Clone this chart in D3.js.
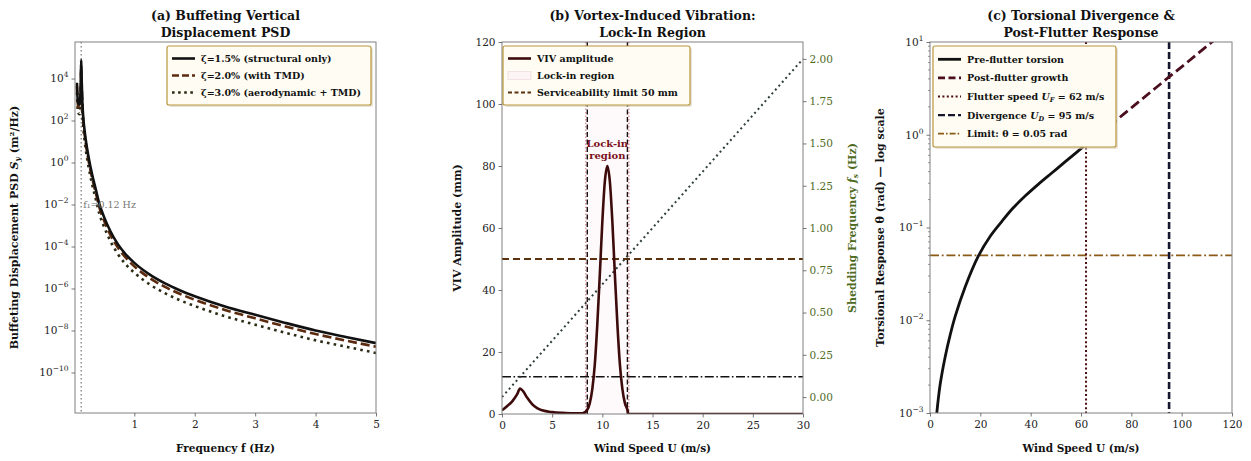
<!DOCTYPE html>
<html><head><meta charset="utf-8">
<script src="https://cdn.jsdelivr.net/npm/d3@7"></script>
<style>body{margin:0;background:#fff}svg{display:block}text{font-family:"DejaVu Serif",serif}</style>
</head><body><svg id="c" width="1251" height="461"></svg>
<script>
// ---------- DATA ----------
// (a) buffeting PSD
const freq = [0.05,0.06,0.07,0.09,0.1,0.11,0.115,0.12,0.125,0.13,0.14,0.156,0.18,0.2,0.24,0.3,0.36,0.42,0.5,0.6,0.73,0.85,1.0,1.25,1.5,1.75,2.0,2.5,3.0,3.5,4.0,4.5,5.0];
const psdZeta15 = [6.3e3,1.26e3,7.1e2,5.6e2,7.9e2,2.5e3,7.9e3,7.6e4,2.5e4,6.3e3,7.9e2,1.26e2,28,10,2.0,0.28,5.6e-2,1.1e-2,2.5e-3,5.6e-4,1.26e-4,4.5e-5,1.66e-5,4.7e-6,1.8e-6,8.3e-7,4.3e-7,1.4e-7,5.6e-8,2.3e-8,1.0e-8,4.9e-9,2.5e-9];
const psdZeta20 = [4.4e3,8.8e2,5.0e2,3.9e2,5.5e2,1.6e3,4.8e3,4.3e4,1.5e4,4.0e3,5.4e2,8.6e1,19,6.8,1.36,0.19,3.8e-2,7.5e-3,1.7e-3,3.8e-4,8.6e-5,3.1e-5,1.13e-5,3.2e-6,1.22e-6,5.6e-7,2.9e-7,9.5e-8,3.8e-8,1.56e-8,6.8e-9,3.3e-9,1.7e-9];
const psdZeta30 = [2.2e3,4.4e2,2.5e2,2.0e2,2.8e2,8.0e2,2.2e3,1.9e4,7.0e3,2.0e3,2.7e2,4.3e1,9.5,3.4,0.68,9.5e-2,1.9e-2,3.7e-3,8.5e-4,1.9e-4,4.3e-5,1.5e-5,5.6e-6,1.6e-6,6.1e-7,2.8e-7,1.46e-7,4.8e-8,1.9e-8,7.8e-9,3.4e-9,1.7e-9,8.5e-10];
const naturalFreq = 0.12;
const psdLegend = ["ζ=1.5% (structural only)","ζ=2.0% (with TMD)","ζ=3.0% (aerodynamic + TMD)"];
const freqTicks = [1,2,3,4,5];
const psdTicks = [1e-10,1e-8,1e-6,1e-4,1e-2,1e0,1e2,1e4];

// (b) VIV
const windViv = [0,0.5,1.0,1.5,1.8,2.1,2.5,3.0,3.5,4.0,5.0,6.0,7.0,8.0,8.5,8.75,9.0,9.25,9.5,9.75,10.0,10.25,10.5,10.75,11.0,11.25,11.5,11.75,12.0,12.25,12.5,12.6,15,20,25,30];
const vivAmp = [1.2,2.5,4.0,6.3,8.2,7.4,5.3,3.2,1.9,1.2,0.6,0.35,0.25,0.2,1.4,3.5,8,16,29,45,62,75,80,75,62,45,29,16,8,3.5,1.4,0,0,0,0,0];
const windShed = [0,30];
const shedFreq = [0,2.0];
const lockIn = [8.5,12.5];
const serviceLimit = 50;
const vivTicksX = [0,5,10,15,20,25,30];
const vivTicksY = [0,20,40,60,80,100,120];
const shedTicks = [0,0.25,0.5,0.75,1.0,1.25,1.5,1.75,2.0];

// (c) torsion
const windPre = [2.7,4,6,8,10,14,19,24,28.5,33,38,43,48.5,54,58,62];
const thetaPre = [0.001,0.0020,0.0040,0.0069,0.011,0.023,0.048,0.081,0.116,0.162,0.221,0.292,0.389,0.519,0.638,0.785];
const windPost = [62,70,80,90,95,100,110,120];
const thetaPost = [0.785,1.17,1.95,3.25,4.2,5.4,9.0,15.0];
const flutterSpeed = 62, divergenceSpeed = 95, thetaLimit = 0.05;
const torTicksX = [0,20,40,60,80,100,120];
const torTicksY = [1e-3,1e-2,1e-1,1e0,1e1];

// ---------- HELPERS ----------
const svg = d3.select("#c");
const SPINE = "#808080";
const TICKFS = "10.5px";
const LFS = "10.5px";
const YLFS = "11px";

function styleAxis(g, color){
  g.select(".domain").remove();
  g.selectAll(".tick line").attr("stroke", "#555").attr("stroke-width",0.8);
  g.selectAll(".tick text").attr("font-size", TICKFS).attr("fill", color||"#222");
}
function pow10Labels(g){
  g.selectAll(".tick text").each(function(d){
    const t=d3.select(this); const e=Math.round(Math.log10(d));
    t.text(null);
    t.append("tspan").text("10");
    t.append("tspan").attr("dy",-5).attr("font-size","7.5px").text(e<0?"−"+(-e):String(e));
  });
}
function frame(L,R,T,B){
  svg.append("rect").attr("x",L).attr("y",T).attr("width",R-L).attr("height",B-T)
    .attr("fill","none").attr("stroke",SPINE).attr("stroke-width",1);
}
function title(cx, l1, l2){
  const t = svg.append("text").attr("text-anchor","middle").attr("font-size","12.5px").attr("font-weight","bold").attr("fill","#111");
  t.append("tspan").attr("x",cx).attr("y",19.5).text(l1);
  t.append("tspan").attr("x",cx).attr("y",36.5).text(l2);
}
function xlabel(cx, s){
  svg.append("text").attr("x",cx).attr("y",452).attr("text-anchor","middle").attr("font-size",LFS).attr("font-weight","bold").attr("fill","#111").text(s);
}
function legend(x,y,w,rowH,items){
  const g = svg.append("g");
  const h = rowH*items.length+8;
  g.append("rect").attr("x",x+2).attr("y",y+2).attr("width",w).attr("height",h).attr("rx",2).attr("fill","#d8d2c0").attr("opacity",0.6);
  g.append("rect").attr("x",x).attr("y",y).attr("width",w).attr("height",h).attr("rx",2).attr("fill","#fffdf3").attr("stroke","#b8963c").attr("stroke-width",1.2);
  items.forEach((it,i)=>{
    const cy = y+4+rowH*(i+0.5);
    if(it.patch){
      g.append("rect").attr("x",x+5).attr("y",cy-4).attr("width",23).attr("height",8).attr("fill",it.fill).attr("stroke",it.stroke).attr("stroke-width",0.6);
    } else {
      g.append("line").attr("x1",x+5).attr("x2",x+28).attr("y1",cy).attr("y2",cy)
        .attr("stroke",it.color).attr("stroke-width",it.w||2.2).attr("stroke-dasharray",it.dash||null);
    }
    const t = g.append("text").attr("x",x+34).attr("y",cy+3.4).attr("font-size","9.5px").attr("font-weight","bold").attr("fill","#111");
    it.text(t);
  });
}
const plain = s => t => t.text(s);

// ---------- PANEL A ----------
(function(){
  const L=75,R=376,T=42,B=413;
  const x = d3.scaleLinear().domain([0.018,5]).range([L,R]);
  const y = d3.scaleLog().domain([Math.pow(10,-11.93),Math.pow(10,5.74)]).range([B,T]);
  svg.append("clipPath").attr("id","ca").append("rect").attr("x",L).attr("y",T).attr("width",R-L).attr("height",B-T);
  const pg = svg.append("g").attr("clip-path","url(#ca)");
  pg.append("line").attr("x1",x(naturalFreq)).attr("x2",x(naturalFreq)).attr("y1",T).attr("y2",B)
    .attr("stroke","#777").attr("stroke-width",1.2).attr("stroke-dasharray","1.5,2.5");
  const series = [
    {v:psdZeta30,c:"#2b2a14",dash:"2.6,4.2",w:2.6},
    {v:psdZeta20,c:"#5c2a0e",dash:"9,4",w:2.6},
    {v:psdZeta15,c:"#111",dash:null,w:2.6}
  ];
  series.forEach(s=>{
    const line = d3.line().x((d,i)=>x(freq[i])).y(d=>y(d)).curve(d3.curveMonotoneX);
    pg.append("path").datum(s.v).attr("d",line).attr("fill","none").attr("stroke",s.c)
      .attr("stroke-width",s.w).attr("stroke-dasharray",s.dash);
  });
  svg.append("text").attr("x",x(naturalFreq)+2).attr("y",y(1e-2)+3.5).attr("font-size","9.5px").attr("fill","#777")
    .text("f₁=0.12 Hz");
  frame(L,R,T,B);
  const gx = svg.append("g").attr("transform",`translate(0,${B})`).call(d3.axisBottom(x).tickValues(freqTicks).tickFormat(d3.format("d")).tickSize(3.5).tickPadding(4));
  styleAxis(gx);
  const gy = svg.append("g").attr("transform",`translate(${L},0)`).call(d3.axisLeft(y).tickValues(psdTicks).tickSize(3.5).tickPadding(3));
  styleAxis(gy); pow10Labels(gy);
  title((L+R)/2,"(a) Buffeting Vertical","Displacement PSD");
  xlabel((L+R)/2,"Frequency f (Hz)");
  const yl = svg.append("text").attr("transform",`translate(18,${(T+B)/2}) rotate(-90)`).attr("text-anchor","middle")
    .attr("font-size",YLFS).attr("font-weight","bold").attr("fill","#111");
  yl.append("tspan").text("Buffeting Displacement PSD ");
  yl.append("tspan").attr("font-style","italic").text("S");
  yl.append("tspan").attr("font-style","italic").attr("font-size","7.5px").attr("dy",2).text("y");
  yl.append("tspan").attr("dy",-2).text(" (m²/Hz)");
  legend(167,46,204,17,[
    {color:"#111",text:plain(psdLegend[0]),w:2.6},
    {color:"#5c2a0e",dash:"7,3",text:plain(psdLegend[1]),w:2.6},
    {color:"#2b2a14",dash:"2.6,3.5",text:plain(psdLegend[2]),w:2.6}
  ]);
})();

// ---------- PANEL B ----------
(function(){
  const L=502,R=803,T=42,B=414;
  const x = d3.scaleLinear().domain([0,30]).range([L,R]);
  const y = d3.scaleLinear().domain([0,120]).range([B,T]);
  const y2 = d3.scaleLinear().domain([-0.1,2.1]).range([B,T]);
  svg.append("clipPath").attr("id","cb").append("rect").attr("x",L).attr("y",T).attr("width",R-L).attr("height",B-T);
  const pg = svg.append("g").attr("clip-path","url(#cb)");
  pg.append("rect").attr("x",x(lockIn[0])).attr("y",T).attr("width",x(lockIn[1])-x(lockIn[0])).attr("height",B-T)
    .attr("fill","#dc143c").attr("opacity",0.018);
  lockIn.forEach((u,i)=>{
    pg.append("line").attr("x1",x(u)+(i?1.5:-1.5)).attr("x2",x(u)+(i?1.5:-1.5)).attr("y1",T).attr("y2",B)
      .attr("stroke","#c0304a").attr("stroke-width",1).attr("stroke-dasharray","1.5,2").attr("opacity",0.7);
    pg.append("line").attr("x1",x(u)).attr("x2",x(u)).attr("y1",T).attr("y2",B)
      .attr("stroke","#1a1010").attr("stroke-width",1.4).attr("stroke-dasharray","5,2.5");
  });
  pg.append("line").attr("x1",L).attr("x2",R).attr("y1",y(serviceLimit)).attr("y2",y(serviceLimit))
    .attr("stroke","#5a3210").attr("stroke-width",1.8).attr("stroke-dasharray","7,4");
  pg.append("line").attr("x1",L).attr("x2",R).attr("y1",y2(naturalFreq)).attr("y2",y2(naturalFreq))
    .attr("stroke","#111").attr("stroke-width",1.6).attr("stroke-dasharray","9,2.5,1.6,2.5");
  const shed = d3.line().x((d,i)=>x(windShed[i])).y(d=>y2(d));
  pg.append("path").datum(shedFreq).attr("d",shed).attr("fill","none").attr("stroke","#2f3f3a")
    .attr("stroke-width",2).attr("stroke-dasharray","2,3.2");
  const amp = d3.line().x((d,i)=>x(windViv[i])).y(d=>y(d)).curve(d3.curveMonotoneX);
  pg.append("path").datum(vivAmp).attr("d",amp).attr("fill","none").attr("stroke","#3d0b0b").attr("stroke-width",2.6);
  const lt = svg.append("text").attr("text-anchor","middle").attr("font-size","10px").attr("font-weight","bold").attr("fill","#7a1020");
  lt.append("tspan").attr("x",x(10.5)).attr("y",147).text("Lock-in");
  lt.append("tspan").attr("x",x(10.5)).attr("y",159).text("region");
  frame(L,R,T,B);
  const gx = svg.append("g").attr("transform",`translate(0,${B})`).call(d3.axisBottom(x).tickValues(vivTicksX).tickSize(3.5).tickPadding(4));
  styleAxis(gx);
  const gy = svg.append("g").attr("transform",`translate(${L},0)`).call(d3.axisLeft(y).tickValues(vivTicksY).tickSize(3.5).tickPadding(3));
  styleAxis(gy);
  const gr = svg.append("g").attr("transform",`translate(${R},0)`).call(d3.axisRight(y2).tickValues(shedTicks).tickFormat(d3.format(".2f")).tickSize(3.5).tickPadding(3));
  styleAxis(gr,"#4f6b1f");
  title((L+R)/2,"(b) Vortex-Induced Vibration:","Lock-In Region");
  xlabel((L+R)/2,"Wind Speed U (m/s)");
  svg.append("text").attr("transform",`translate(461,${(T+B)/2}) rotate(-90)`).attr("text-anchor","middle")
    .attr("font-size",YLFS).attr("font-weight","bold").attr("fill","#111").text("VIV Amplitude (mm)");
  const yr = svg.append("text").attr("transform",`translate(856,${(T+B)/2}) rotate(-90)`).attr("text-anchor","middle")
    .attr("font-size",YLFS).attr("font-weight","bold").attr("fill","#4f6b1f");
  yr.append("tspan").text("Shedding Frequency ");
  yr.append("tspan").attr("font-style","italic").text("f");
  yr.append("tspan").attr("font-style","italic").attr("font-size","7.5px").attr("dy",2).text("s");
  yr.append("tspan").attr("dy",-2).text(" (Hz)");
  legend(503,46,187,17,[
    {color:"#3d0b0b",text:plain("VIV amplitude"),w:2.6},
    {patch:true,fill:"#fdf4f5",stroke:"#ecd4d7",text:plain("Lock-in region")},
    {color:"#5a3210",dash:"4,2.5",text:plain("Serviceability limit 50 mm"),w:1.8}
  ]);
})();

// ---------- PANEL C ----------
(function(){
  const L=930,R=1232,T=42,B=413;
  const x = d3.scaleLinear().domain([0,120]).range([L,R]);
  const y = d3.scaleLog().domain([1e-3,1e1]).range([B,T]);
  svg.append("clipPath").attr("id","cc").append("rect").attr("x",L).attr("y",T).attr("width",R-L).attr("height",B-T);
  const pg = svg.append("g").attr("clip-path","url(#cc)");
  pg.append("line").attr("x1",L).attr("x2",R).attr("y1",y(thetaLimit)).attr("y2",y(thetaLimit))
    .attr("stroke","#8a5a16").attr("stroke-width",1.8).attr("stroke-dasharray","9,2.8,1.8,2.8");
  pg.append("line").attr("x1",x(flutterSpeed)).attr("x2",x(flutterSpeed)).attr("y1",T).attr("y2",B)
    .attr("stroke","#4a0c0c").attr("stroke-width",2).attr("stroke-dasharray","2,2.4");
  pg.append("line").attr("x1",x(divergenceSpeed)).attr("x2",x(divergenceSpeed)).attr("y1",T).attr("y2",B)
    .attr("stroke","#16162e").attr("stroke-width",2.6).attr("stroke-dasharray","7,3");
  const lp = d3.line().x((d,i)=>x(windPre[i])).y(d=>y(d)).curve(d3.curveCatmullRom.alpha(0.5));
  pg.append("path").datum(thetaPre).attr("d",lp).attr("fill","none").attr("stroke","#111").attr("stroke-width",2.8);
  const lq = d3.line().x((d,i)=>x(windPost[i])).y(d=>y(d)).curve(d3.curveMonotoneX);
  pg.append("path").datum(thetaPost).attr("d",lq).attr("fill","none").attr("stroke","#4a0e1e").attr("stroke-width",2.8).attr("stroke-dasharray","10,4.5");
  frame(L,R,T,B);
  const gx = svg.append("g").attr("transform",`translate(0,${B})`).call(d3.axisBottom(x).tickValues(torTicksX).tickSize(3.5).tickPadding(4));
  styleAxis(gx);
  const gy = svg.append("g").attr("transform",`translate(${L},0)`).call(d3.axisLeft(y).tickValues(torTicksY).tickSize(3.5).tickPadding(3));
  styleAxis(gy); pow10Labels(gy);
  const minors=[];
  for(let e=-3;e<1;e++) for(let m=2;m<10;m++) minors.push(m*Math.pow(10,e));
  svg.append("g").selectAll("line").data(minors).join("line").attr("x1",L-2).attr("x2",L).attr("y1",d=>y(d)).attr("y2",d=>y(d))
    .attr("stroke","#555").attr("stroke-width",0.6);
  title((L+R)/2,"(c) Torsional Divergence &","Post-Flutter Response");
  xlabel((L+R)/2,"Wind Speed U (m/s)");
  svg.append("text").attr("transform",`translate(884,${(T+B)/2}) rotate(-90)`).attr("text-anchor","middle")
    .attr("font-size",YLFS).attr("font-weight","bold").attr("fill","#111").text("Torsional Response θ (rad) — log scale");
  const uSub = (pre,sym,sub,post) => t => {
    t.append("tspan").text(pre);
    t.append("tspan").attr("font-style","italic").text(sym);
    t.append("tspan").attr("font-style","italic").attr("font-size","6.5px").attr("dy",2).text(sub);
    t.append("tspan").attr("dy",-2).text(post);
  };
  legend(933,46,183,18.6,[
    {color:"#111",text:plain("Pre-flutter torsion"),w:2.8},
    {color:"#4a0e1e",dash:"7,3.5",text:plain("Post-flutter growth"),w:2.6},
    {color:"#4a0c0c",dash:"2,2.4",text:uSub("Flutter speed ","U","F"," = 62 m/s"),w:2},
    {color:"#16162e",dash:"7,3",text:uSub("Divergence ","U","D"," = 95 m/s"),w:2.4},
    {color:"#8a5a16",dash:"6,2,1.6,2",text:plain("Limit: θ = 0.05 rad"),w:1.8}
  ]);
})();
</script></body></html>
